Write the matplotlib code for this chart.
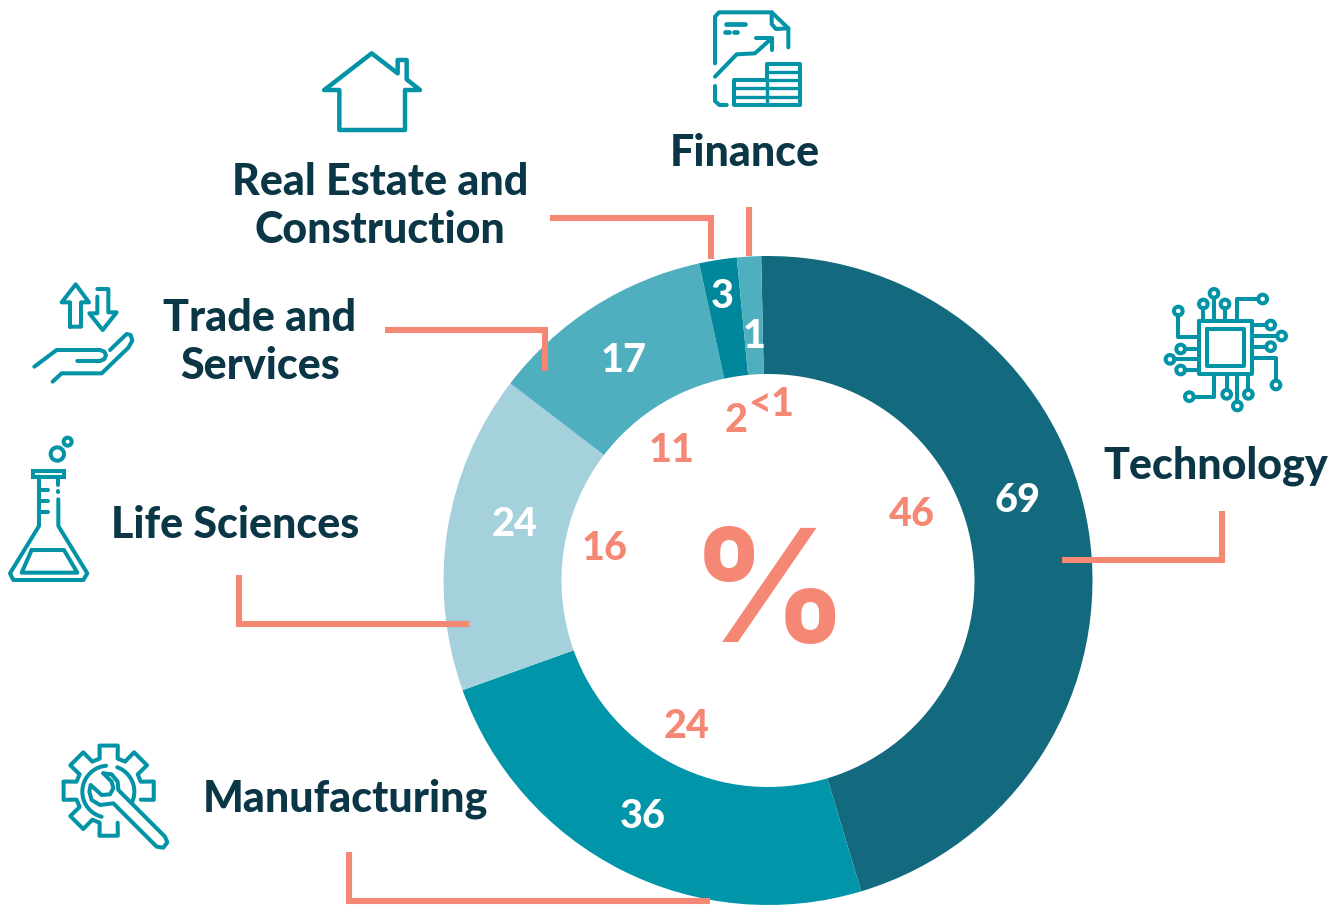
import numpy as np
import matplotlib
matplotlib.use("Agg")
import matplotlib.pyplot as plt
from matplotlib.patches import Circle, Rectangle

W, H = 1343, 906
TEAL = "#0393A6"
SALMON = "#F58875"
NAVY = "#0A3646"
FONT = "Lato"

# --------------------------------------------------
# Data
# --------------------------------------------------
sectors = ["Technology", "Manufacturing", "Life Sciences",
           "Trade and\nServices", "Real Estate and\nConstruction", "Finance"]
outer_labels = ["69", "36", "24", "17", "3", "1"]
inner_labels = ["46", "24", "16", "11", "2", "<1"]
# wedge shares as measured off the ring
shares = [68.5, 36.2, 23.8, 16.8, 2.8, 1.8]
colors = ["#136A7E", "#0195A9", "#A4D1DC", "#4FAFBF", "#00879B", "#4FAFBF"]

fig = plt.figure(figsize=(W / 100, H / 100), dpi=100)
ax = fig.add_axes([0, 0, 1, 1])


def Y(y):
    return H - y


# --------------------------------------------------
# Ring
# --------------------------------------------------
ax.pie(
    shares,
    colors=colors,
    center=(768, Y(580.5)),
    radius=324.5,
    startangle=91.2,
    counterclock=False,
    wedgeprops={"width": 118, "linewidth": 0},
    frame=True,
)
ax.set_xlim(0, W)
ax.set_ylim(0, H)
ax.set_aspect("equal")
ax.axis("off")

outer_pos = [(1018, 500), (643, 816), (515, 525), (624, 360), (722, 296), (754, 337)]
inner_pos = [(912, 514), (687, 726), (605, 549), (672, 451), (736, 420), (771, 405)]

for label, (x, y) in zip(outer_labels, outer_pos):
    ax.text(x, Y(y), label, color="white", fontsize=28.5, fontweight=900,
            family=FONT, ha="center", va="center")
for label, (x, y) in zip(inner_labels, inner_pos):
    ax.text(x, Y(y), label, color=SALMON, fontsize=28.5, fontweight=900,
            family=FONT, ha="center", va="center")

ax.text(769, Y(601), "%", color=SALMON, fontsize=113, fontweight="bold",
        family="Inter", ha="center", va="center")

# --------------------------------------------------
# Sector names
# --------------------------------------------------
name_pos = [(1216, 466), (345, 799), (235, 525), (260, 342), (380, 206), (745, 153)]
for name, (x, y) in zip(sectors, name_pos):
    ax.text(x, Y(y), name, color=NAVY, fontsize=31, fontweight=900,
            family=FONT, ha="center", va="center", linespacing=1.22)

# --------------------------------------------------
# Leader lines
# --------------------------------------------------
leaders = [
    [(1062, 560), (1222, 560), (1222, 511)],
    [(349, 852), (349, 901), (710, 901)],
    [(239, 575), (239, 624), (469, 624)],
    [(385, 330), (545, 330), (545, 371)],
    [(550, 218), (711, 218), (711, 259)],
    [(749, 207), (749, 256)],
]
for pts in leaders:
    xs, ys = zip(*pts)
    ax.plot(xs, [Y(v) for v in ys], color=SALMON, lw=4.4,
            solid_capstyle="butt", solid_joinstyle="miter")


# --------------------------------------------------
# Icons, traced from 3x crops
# --------------------------------------------------
def icon_line(ox, oy, pts, lw=2.9, close=False):
    pts = list(pts)
    if close:
        pts = pts + [pts[0]]
    xs = [ox + p[0] / 3 for p in pts]
    ys = [Y(oy + p[1] / 3) for p in pts]
    ax.plot(xs, ys, color=TEAL, lw=lw, solid_capstyle="round", solid_joinstyle="round")


def icon_circle(ox, oy, x, y, r, lw=2.9):
    ax.add_patch(Circle((ox + x / 3, Y(oy + y / 3)), r / 3, fill=False,
                        edgecolor=TEAL, lw=lw))


# finance
ox, oy = 690, 0
icon_line(ox, oy, [(75, 190), (75, 50), (87, 37), (245, 37), (295, 85), (295, 142)])
icon_line(ox, oy, [(245, 37), (245, 72), (258, 87), (295, 85)])
icon_line(ox, oy, [(75, 258), (75, 303), (88, 315), (110, 315)])
icon_line(ox, oy, [(107, 73), (166, 73)], lw=3.4)
icon_line(ox, oy, [(105, 97), (116, 97)], lw=3.4)
icon_line(ox, oy, [(131, 97), (142, 97)], lw=3.4)
icon_line(ox, oy, [(75, 230), (140, 163), (195, 160), (245, 115)])
icon_line(ox, oy, [(198, 115), (245, 115), (245, 150)])
icon_line(ox, oy, [(232, 240), (232, 192), (330, 192), (330, 315), (133, 315), (133, 240), (232, 240)])
for y in [215, 240, 265, 290]:
    icon_line(ox, oy, [(232, y), (330, y)], lw=2.4)
for y in [265, 290]:
    icon_line(ox, oy, [(133, y), (232, y)], lw=2.4)
icon_line(ox, oy, [(232, 240), (232, 315)], lw=2.4)

# house
icon_line(310, 40, [(43, 150), (88, 150), (88, 270), (285, 270), (285, 150), (330, 150),
                    (290, 118), (290, 60), (263, 60), (263, 100), (185, 40)], close=True, lw=3.2)

# chip
ox, oy = 1150, 280
icon_line(ox, oy, [(148, 123), (305, 123), (305, 282), (148, 282)], close=True)
icon_line(ox, oy, [(172, 147), (283, 147), (283, 258), (172, 258)], close=True)
chip_nodes = [
    (85, 93, [(85, 105), (85, 170), (148, 170)]),
    (160, 72, [(160, 85), (160, 123)]),
    (192, 40, [(192, 53), (192, 123)]),
    (225, 72, [(225, 85), (225, 123)]),
    (338, 57, [(325, 57), (260, 57), (260, 123)]),
    (362, 135, [(348, 135), (305, 135)]),
    (395, 168, [(382, 168), (305, 168)]),
    (362, 200, [(348, 200), (305, 200)]),
    (378, 315, [(378, 300), (378, 235), (305, 235)]),
    (92, 207, [(105, 207), (148, 207)]),
    (60, 238, [(73, 238), (148, 238)]),
    (92, 270, [(105, 270), (148, 270)]),
    (118, 350, [(132, 350), (192, 350), (192, 282)]),
    (230, 343, [(230, 330), (230, 282)]),
    (262, 378, [(262, 365), (262, 282)]),
    (295, 343, [(295, 330), (295, 282)]),
]
for cx, cy, path in chip_nodes:
    icon_circle(ox, oy, cx, cy, 13)
    icon_line(ox, oy, path)

# hand and arrows
ox, oy = 20, 275
icon_line(ox, oy, [(150, 155), (150, 82), (125, 82), (167, 28), (207, 82), (183, 82), (183, 155)], close=True)
icon_line(ox, oy, [(232, 42), (265, 42), (265, 112), (290, 112), (248, 165), (208, 115), (232, 115), (232, 65)])
icon_line(ox, oy, [(43, 275), (110, 225), (240, 225), (253, 230), (258, 241), (253, 252), (240, 258), (172, 258)])
icon_line(ox, oy, [(98, 320), (125, 295), (245, 295), (325, 218), (337, 197), (332, 180), (320, 177), (270, 225)])

# flask
ox, oy = 0, 430
icon_circle(ox, oy, 172, 72, 20)
icon_circle(ox, oy, 203, 35, 12)
ax.add_patch(Rectangle((ox + 100 / 3, Y(oy + 140 / 3)), 92 / 3, 18 / 3, fill=False,
                       edgecolor=TEAL, lw=2.9))
icon_line(ox, oy, [(117, 140), (117, 288), (30, 430), (40, 450), (250, 450), (262, 430),
                   (175, 288), (175, 208)])
icon_line(ox, oy, [(175, 165), (175, 140)])
icon_line(ox, oy, [(175, 184), (175, 185)])
for y in [180, 213, 245]:
    icon_line(ox, oy, [(117, y), (143, y)])
icon_line(ox, oy, [(95, 360), (192, 360), (232, 428), (65, 428)], close=True)

# gear and wrench
ox, oy = 50, 735
gear = []
for a in [-90, -135, 180, 135, 90, 45, 0]:
    for d, r in [(-15.6, 100), (-11.5, 138), (11.5, 138), (15.6, 100)]:
        t = np.radians(a + d * -1)
        gear.append((176 + r * np.cos(t), 167 - r * np.sin(t)))
icon_line(ox, oy, gear)
t = np.radians(np.linspace(95, 255, 30))
icon_line(ox, oy, [(175 + 78 * np.cos(v), 170 - 78 * np.sin(v)) for v in t])
t = np.radians(np.linspace(70, -25, 20))
icon_line(ox, oy, [(175 + 78 * np.cos(v), 170 - 78 * np.sin(v)) for v in t])
icon_line(ox, oy, [(160, 115), (185, 118), (203, 140), (205, 165), (345, 305), (352, 322), (340, 338),
                   (320, 335), (190, 205), (150, 210), (125, 195), (118, 170), (122, 150),
                   (155, 180), (180, 178), (190, 160), (185, 140)], close=True)

fig.savefig("out.png", dpi=100, facecolor="white")
plt.close(fig)
